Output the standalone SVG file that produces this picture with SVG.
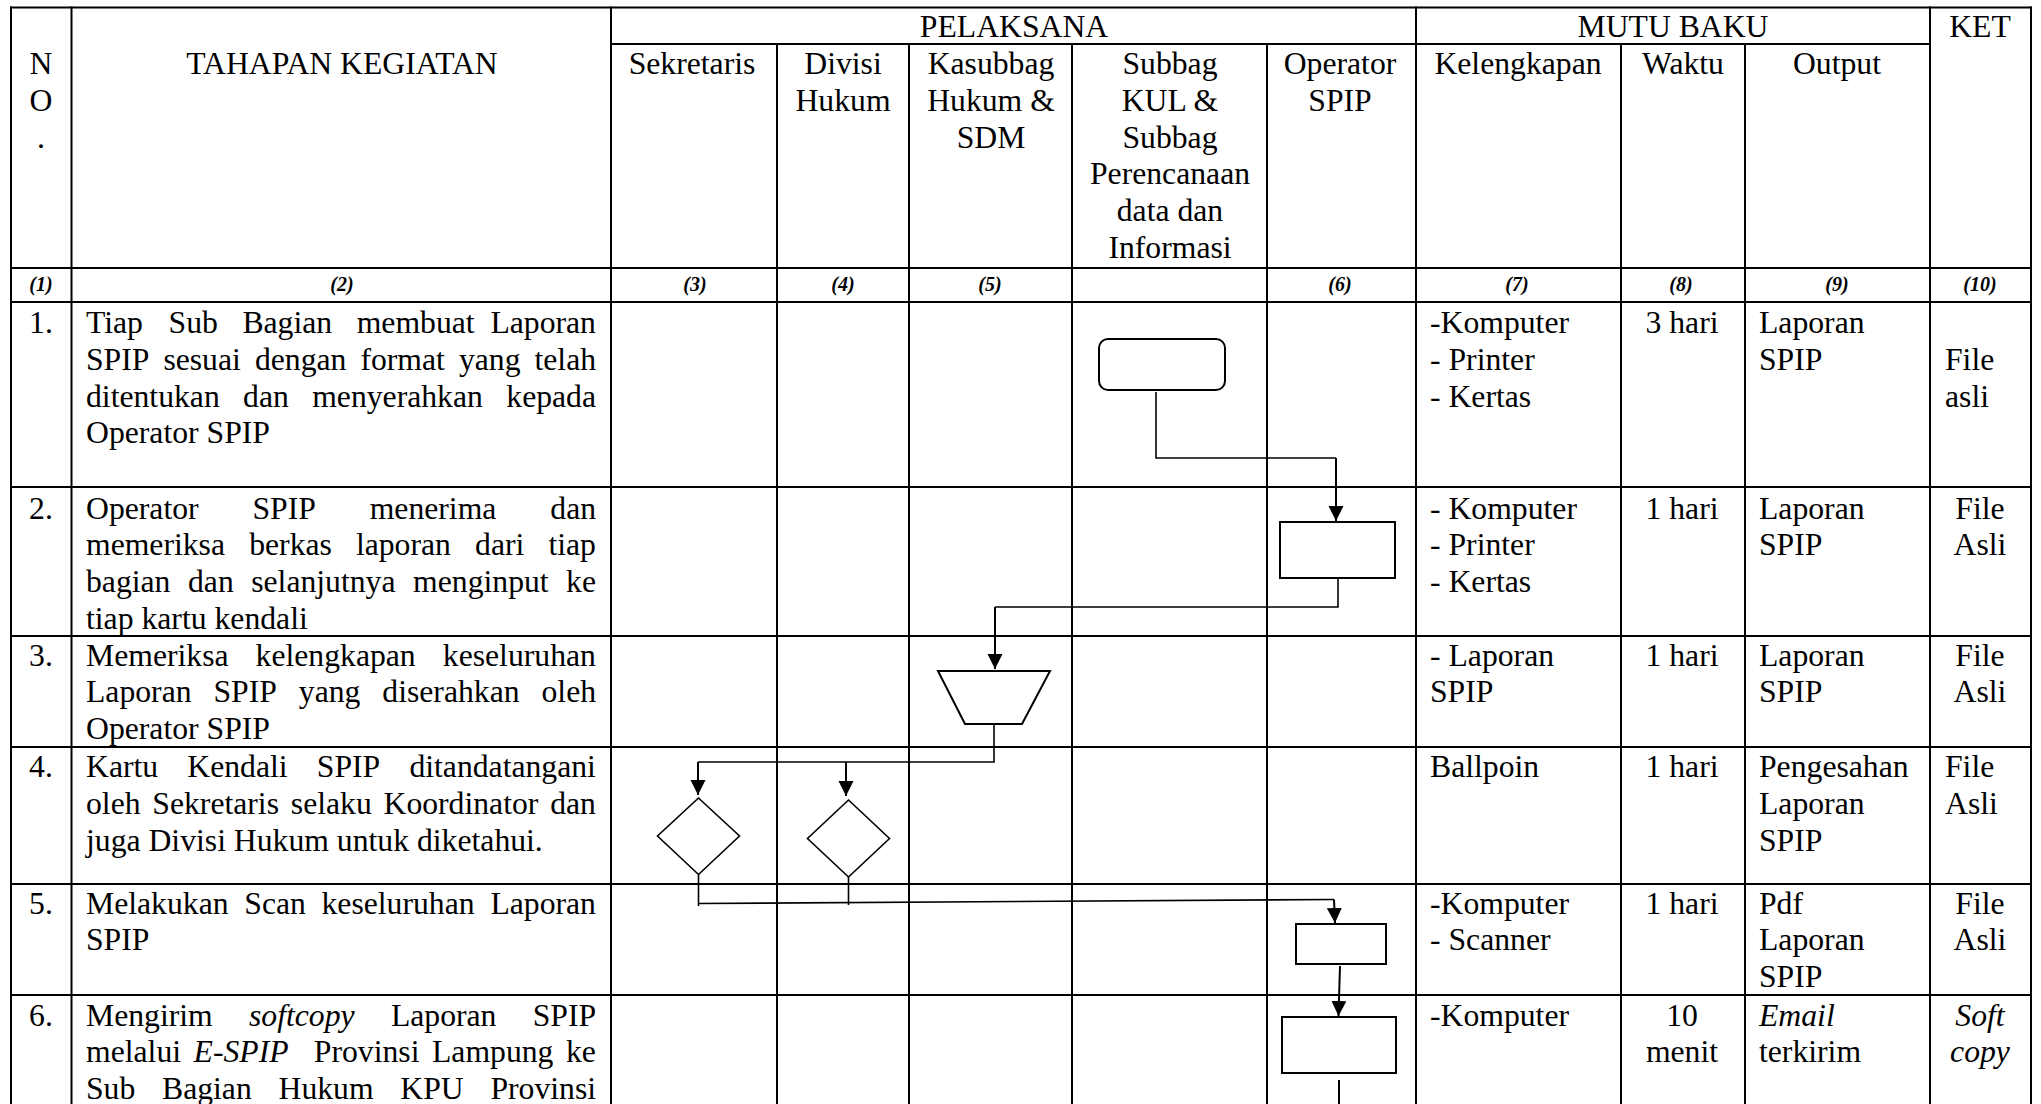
<svg xmlns="http://www.w3.org/2000/svg" width="2041" height="1104" viewBox="0 0 2041 1104">
<style>
.t{font-family:"Liberation Serif","Times New Roman",serif;font-size:31.7px;fill:#000}
.c{text-anchor:middle}
.i{font-style:italic}
.n{font-family:"Liberation Serif","Times New Roman",serif;font-size:20px;font-weight:bold;font-style:italic;text-anchor:middle;fill:#000}
.grid line{stroke:#000;stroke-width:2}
.shape{fill:#fff;stroke:#000;stroke-width:2}
.conn path{fill:none;stroke:#000;stroke-width:1.6}
.conn path.ar{stroke-width:2}
</style>
<defs>
<marker id="arr" markerUnits="userSpaceOnUse" markerWidth="16" markerHeight="16" refX="15" refY="7.5" orient="auto">
<path d="M0,0 L15,7.5 L0,15 z" fill="#000"/>
</marker>
</defs>
<rect x="0" y="0" width="2041" height="1104" fill="#fff"/>
<g id="table" class="grid">
<line x1="10" y1="7.5" x2="2032" y2="7.5"/>
<line x1="611" y1="44" x2="1930" y2="44"/>
<line x1="10" y1="268" x2="2032" y2="268"/>
<line x1="10" y1="302" x2="2032" y2="302"/>
<line x1="10" y1="487" x2="2032" y2="487"/>
<line x1="10" y1="636" x2="2032" y2="636"/>
<line x1="10" y1="747" x2="2032" y2="747"/>
<line x1="10" y1="884" x2="2032" y2="884"/>
<line x1="10" y1="995" x2="2032" y2="995"/>
<line x1="11" y1="6.5" x2="11" y2="1104"/>
<line x1="71.5" y1="6.5" x2="71.5" y2="1104"/>
<line x1="611" y1="6.5" x2="611" y2="1104"/>
<line x1="777" y1="44" x2="777" y2="1104"/>
<line x1="909" y1="44" x2="909" y2="1104"/>
<line x1="1072" y1="44" x2="1072" y2="1104"/>
<line x1="1267" y1="44" x2="1267" y2="1104"/>
<line x1="1416" y1="6.5" x2="1416" y2="1104"/>
<line x1="1621" y1="44" x2="1621" y2="1104"/>
<line x1="1745" y1="44" x2="1745" y2="1104"/>
<line x1="1930" y1="6.5" x2="1930" y2="1104"/>
<line x1="2031" y1="6.5" x2="2031" y2="1104"/>
</g>
<g id="header">
<text class="t c" x="1014" y="37">PELAKSANA</text>
<text class="t c" x="1673" y="37">MUTU BAKU</text>
<text class="t c" x="1980" y="37">KET</text>
<text class="t c" x="41" y="74">N</text>
<text class="t c" x="41" y="111">O</text>
<text class="t c" x="41" y="148">.</text>
<text class="t c" x="342" y="74">TAHAPAN KEGIATAN</text>
<text class="t c" x="692" y="74">Sekretaris</text>
<text class="t c" x="843"><tspan x="843" y="74">Divisi</tspan><tspan x="843" y="110.8">Hukum</tspan></text>
<text class="t c"><tspan x="991" y="74">Kasubbag</tspan><tspan x="991" y="110.8">Hukum &amp;</tspan><tspan x="991" y="147.6">SDM</tspan></text>
<text class="t c"><tspan x="1170" y="74">Subbag</tspan><tspan x="1170" y="110.8">KUL &amp;</tspan><tspan x="1170" y="147.6">Subbag</tspan><tspan x="1170" y="184.4">Perencanaan</tspan><tspan x="1170" y="221.2">data dan</tspan><tspan x="1170" y="258">Informasi</tspan></text>
<text class="t c"><tspan x="1340" y="74">Operator</tspan><tspan x="1340" y="110.8">SPIP</tspan></text>
<text class="t c" x="1518" y="74">Kelengkapan</text>
<text class="t c" x="1683" y="74">Waktu</text>
<text class="t c" x="1837" y="74">Output</text>
<text class="n" x="41" y="291">(1)</text>
<text class="n" x="342" y="291">(2)</text>
<text class="n" x="695" y="291">(3)</text>
<text class="n" x="843" y="291">(4)</text>
<text class="n" x="990" y="291">(5)</text>
<text class="n" x="1340" y="291">(6)</text>
<text class="n" x="1517" y="291">(7)</text>
<text class="n" x="1681" y="291">(8)</text>
<text class="n" x="1837" y="291">(9)</text>
<text class="n" x="1980" y="291">(10)</text>
</g>
<g id="row1">
<text class="t c" x="41" y="333">1.</text>
<text class="t"><tspan x="86" y="333">Tiap</tspan><tspan x="168.6" y="333">Sub</tspan><tspan x="242.4" y="333">Bagian</tspan><tspan x="356.7" y="333">membuat</tspan><tspan x="490.4" y="333">Laporan</tspan></text>
<text class="t"><tspan x="86" y="369.8">SPIP</tspan><tspan x="163.4" y="369.8">sesuai</tspan><tspan x="254.9" y="369.8">dengan</tspan><tspan x="360.4" y="369.8">format</tspan><tspan x="458.9" y="369.8">yang</tspan><tspan x="534.5" y="369.8">telah</tspan></text>
<text class="t"><tspan x="86" y="406.6">ditentukan</tspan><tspan x="243.1" y="406.6">dan</tspan><tspan x="312.2" y="406.6">menyerahkan</tspan><tspan x="506.3" y="406.6">kepada</tspan></text>
<text class="t" x="86" y="443.4">Operator SPIP</text>
<text class="t"><tspan x="1430" y="333">-Komputer</tspan><tspan x="1430" y="369.8">- Printer</tspan><tspan x="1430" y="406.6">- Kertas</tspan></text>
<text class="t c" x="1682" y="333">3 hari</text>
<text class="t"><tspan x="1759" y="333">Laporan</tspan><tspan x="1759" y="369.8">SPIP</tspan></text>
<text class="t"><tspan x="1945" y="369.8">File</tspan><tspan x="1945" y="406.6">asli</tspan></text>
</g>
<g id="row2">
<text class="t c" x="41" y="518.5">2.</text>
<text class="t"><tspan x="86" y="518.5">Operator</tspan><tspan x="252.5" y="518.5">SPIP</tspan><tspan x="369.7" y="518.5">menerima</tspan><tspan x="550.3" y="518.5">dan</tspan></text>
<text class="t"><tspan x="86" y="555.3">memeriksa</tspan><tspan x="249.2" y="555.3">berkas</tspan><tspan x="355.9" y="555.3">laporan</tspan><tspan x="475.1" y="555.3">dari</tspan><tspan x="548.4" y="555.3">tiap</tspan></text>
<text class="t"><tspan x="86" y="592.1">bagian</tspan><tspan x="188" y="592.1">dan</tspan><tspan x="251.2" y="592.1">selanjutnya</tspan><tspan x="413.1" y="592.1">menginput</tspan><tspan x="566.1" y="592.1">ke</tspan></text>
<text class="t" x="86" y="628.9">tiap kartu kendali</text>
<text class="t"><tspan x="1430" y="518.5">- Komputer</tspan><tspan x="1430" y="555.3">- Printer</tspan><tspan x="1430" y="592.1">- Kertas</tspan></text>
<text class="t c" x="1682" y="518.5">1 hari</text>
<text class="t"><tspan x="1759" y="518.5">Laporan</tspan><tspan x="1759" y="555.3">SPIP</tspan></text>
<text class="t c"><tspan x="1980" y="518.5">File</tspan><tspan x="1980" y="555.3">Asli</tspan></text>
</g>
<g id="row3">
<text class="t c" x="41" y="665.5">3.</text>
<text class="t"><tspan x="86" y="665.5">Memeriksa</tspan><tspan x="255.6" y="665.5">kelengkapan</tspan><tspan x="442.8" y="665.5">keseluruhan</tspan></text>
<text class="t"><tspan x="86" y="702.3">Laporan</tspan><tspan x="213.5" y="702.3">SPIP</tspan><tspan x="298.8" y="702.3">yang</tspan><tspan x="382.3" y="702.3">diserahkan</tspan><tspan x="541.5" y="702.3">oleh</tspan></text>
<text class="t" x="86" y="739.1">Operator SPIP</text>
<text class="t"><tspan x="1430" y="665.5">- Laporan</tspan><tspan x="1430" y="702.3">SPIP</tspan></text>
<text class="t c" x="1682" y="665.5">1 hari</text>
<text class="t"><tspan x="1759" y="665.5">Laporan</tspan><tspan x="1759" y="702.3">SPIP</tspan></text>
<text class="t c"><tspan x="1980" y="665.5">File</tspan><tspan x="1980" y="702.3">Asli</tspan></text>
</g>
<g id="row4">
<text class="t c" x="41" y="777">4.</text>
<text class="t"><tspan x="86" y="777">Kartu</tspan><tspan x="187.3" y="777">Kendali</tspan><tspan x="316.8" y="777">SPIP</tspan><tspan x="409.4" y="777">ditandatangani</tspan></text>
<text class="t"><tspan x="86" y="813.8">oleh</tspan><tspan x="152.3" y="813.8">Sekretaris</tspan><tspan x="290.8" y="813.8">selaku</tspan><tspan x="383.5" y="813.8">Koordinator</tspan><tspan x="550.2" y="813.8">dan</tspan></text>
<text class="t" x="86" y="850.6">juga Divisi Hukum untuk diketahui.</text>
<text class="t" x="1430" y="777">Ballpoin</text>
<text class="t c" x="1682" y="777">1 hari</text>
<text class="t"><tspan x="1759" y="777">Pengesahan</tspan><tspan x="1759" y="813.8">Laporan</tspan><tspan x="1759" y="850.6">SPIP</tspan></text>
<text class="t"><tspan x="1945" y="777">File</tspan><tspan x="1945" y="813.8">Asli</tspan></text>
</g>
<g id="row5">
<text class="t c" x="41" y="913.5">5.</text>
<text class="t"><tspan x="86" y="913.5">Melakukan</tspan><tspan x="244.3" y="913.5">Scan</tspan><tspan x="321.5" y="913.5">keseluruhan</tspan><tspan x="490.4" y="913.5">Laporan</tspan></text>
<text class="t" x="86" y="950.3">SPIP</text>
<text class="t"><tspan x="1430" y="913.5">-Komputer</tspan><tspan x="1430" y="950.3">- Scanner</tspan></text>
<text class="t c" x="1682" y="913.5">1 hari</text>
<text class="t"><tspan x="1759" y="913.5">Pdf</tspan><tspan x="1759" y="950.3">Laporan</tspan><tspan x="1759" y="987.1">SPIP</tspan></text>
<text class="t c"><tspan x="1980" y="913.5">File</tspan><tspan x="1980" y="950.3">Asli</tspan></text>
</g>
<g id="row6">
<text class="t c" x="41" y="1025.5">6.</text>
<text class="t"><tspan x="86" y="1025.5">Mengirim</tspan><tspan class="i" x="249" y="1025.5">softcopy</tspan><tspan x="390.9" y="1025.5">Laporan</tspan><tspan x="532.7" y="1025.5">SPIP</tspan></text>
<text class="t"><tspan x="86" y="1062.3">melalui</tspan><tspan class="i" x="193.6" y="1062.3">E-SPIP</tspan><tspan x="313.8" y="1062.3">Provinsi</tspan><tspan x="432" y="1062.3">Lampung</tspan><tspan x="566" y="1062.3">ke</tspan></text>
<text class="t"><tspan x="86" y="1099.1">Sub</tspan><tspan x="162" y="1099.1">Bagian</tspan><tspan x="278.5" y="1099.1">Hukum</tspan><tspan x="400.3" y="1099.1">KPU</tspan><tspan x="490.4" y="1099.1">Provinsi</tspan></text>
<text class="t" x="1430" y="1025.5">-Komputer</text>
<text class="t c"><tspan x="1682" y="1025.5">10</tspan><tspan x="1682" y="1062.3">menit</tspan></text>
<text class="t"><tspan class="i" x="1759" y="1025.5">Email</tspan><tspan x="1759" y="1062.3">terkirim</tspan></text>
<text class="t c i"><tspan x="1980" y="1025.5">Soft</tspan><tspan x="1980" y="1062.3">copy</tspan></text>
</g>
<g id="node1"><rect class="shape" x="1099" y="339" width="126" height="51" rx="9"/></g>
<g id="node2"><rect class="shape" x="1280" y="522" width="115" height="56"/></g>
<g id="node3"><polygon class="shape" points="938,671 1050,671 1022,724 965,724"/></g>
<g id="node4a"><polygon class="shape" style="stroke-width:1.6" points="698.5,798 739.5,836 698.5,874.5 657.5,836"/></g>
<g id="node4b"><polygon class="shape" style="stroke-width:1.6" points="848.5,800 889.5,838.5 848.5,877 807.5,838.5"/></g>
<g id="node5"><rect class="shape" x="1296" y="924" width="90" height="40"/></g>
<g id="node6"><rect class="shape" x="1282" y="1017" width="114" height="56"/></g>
<g id="connectors" class="conn">
<path d="M1156,392 V458 H1336"/>
<path class="ar" d="M1336,458 V521" marker-end="url(#arr)"/>
<path d="M1338,578 V607 H995"/>
<path class="ar" d="M995,607 V669" marker-end="url(#arr)"/>
<path d="M994,724 V762 H698"/>
<path class="ar" d="M698,762 V795" marker-end="url(#arr)"/>
<path class="ar" d="M846,762 V796" marker-end="url(#arr)"/>
<path d="M698.5,874.5 V906"/>
<path d="M848.5,877 V905"/>
<path d="M698,903.5 L1334,899.5"/>
<path class="ar" d="M1334,899.5 L1335,923" marker-end="url(#arr)"/>
<path class="ar" d="M1340,966 L1338.5,1016" marker-end="url(#arr)"/>
<path class="ar" d="M1339,1080 V1104"/>
</g>
</svg>
